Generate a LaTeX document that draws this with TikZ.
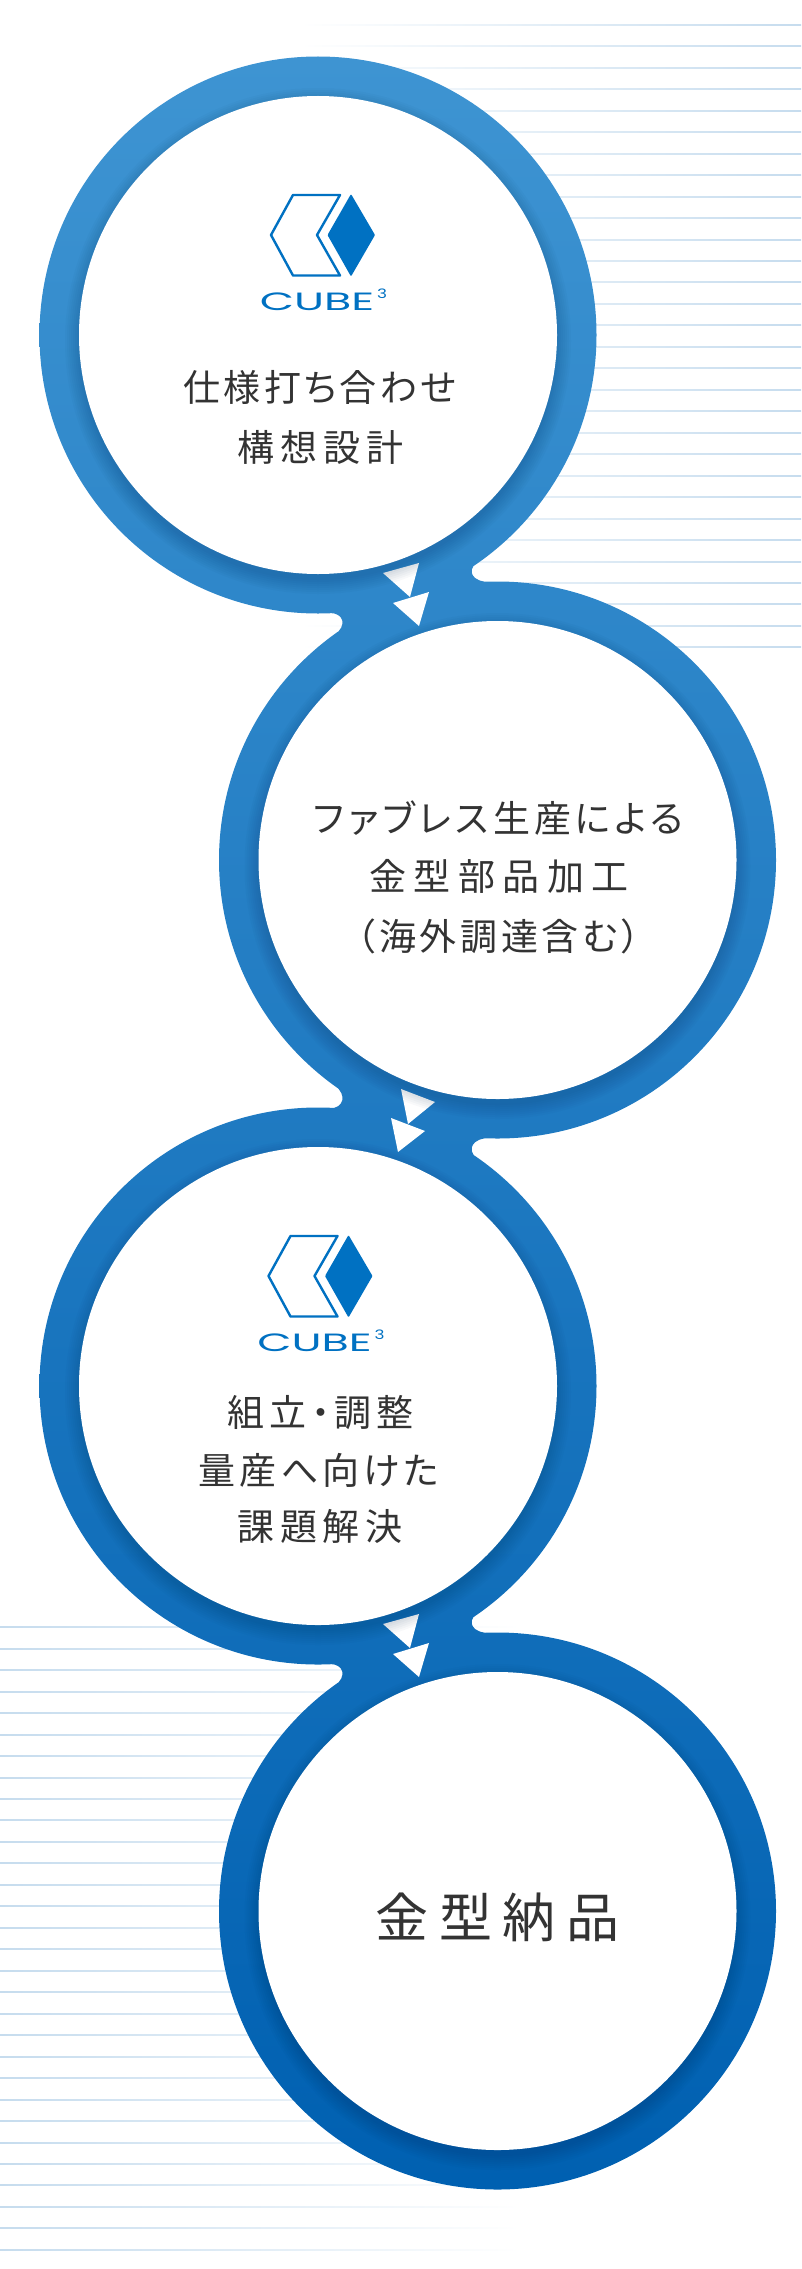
\documentclass[tikz,border=0pt]{standalone}
\usepackage{fontspec}
\newfontfamily\jpfont[RawFeature=+palt]{Noto Sans CJK JP}
\newfontfamily\logofont{Poppins}
\definecolor{linecol}{HTML}{C6DCEE}
\definecolor{ringtop}{HTML}{3E94D2}
\definecolor{ringbottom}{HTML}{0060B1}
\definecolor{logoblue}{HTML}{0071C2}
\definecolor{textcol}{HTML}{333333}
\definecolor{shadowcol}{HTML}{002A55}
\newcommand{\tracked}[2]{{\addfontfeature{LetterSpace=#1}#2}}
\tikzset{
    stepdisc/.style={circle, fill=white, inner sep=0pt, minimum size=478pt},
    steptext/.style={font=\jpfont\fontsize{37}{60}\selectfont, align=center, text=textcol, inner sep=0pt},
    bigtext/.style={font=\jpfont\fontsize{53}{60}\selectfont, align=center, text=textcol, inner sep=0pt},
    cubeword/.style={font=\logofont\fontsize{25}{25}\selectfont, text=logoblue, inner sep=0pt, xscale=1.78},
    cubeexp/.style={font=\logofont\fontsize{13}{13}\selectfont, text=logoblue, inner sep=0pt, xscale=1.3},
    cubelogo/.pic={
        \draw[logoblue, line width=2.4pt, line join=round] (-24,-40) -- (23,-40) -- (0,0) -- (23,40.5) -- (-24,40.5) -- (-46,0) -- cycle;
        \fill[logoblue, rounded corners=1pt] (34,-41) -- (58,0) -- (34,41.5) -- (10.5,0) -- cycle;
        \node[cubeword] (-word) at (0,67) {CUBE};
        \node[cubeexp] (-exp) at (65,59) {3};
    }
}
\begin{document}
\begin{tikzpicture}[x=1pt,y=-1pt]
    \useasboundingbox (0,0) rectangle (801,2269);

    % Striped background, top right and bottom left
    \foreach \k in {0,...,29} {
        \pgfmathsetmacro\ly{24.3+21.47*\k}
        \shade[left color=white, right color=linecol] (300,\ly) rectangle (801,\ly+1);
        \pgfmathsetmacro\ly{1626.7+21.47*\k}
        \shade[left color=linecol, right color=white] (0,\ly) rectangle (520,\ly+1);
    }

    % Define the centres of the circles
    \coordinate (c1) at (318,335);
    \coordinate (c2) at (497.5,860);
    \coordinate (c3) at (318,1386);
    \coordinate (c4) at (497.5,1911);

    % Draw the ring band with its three necks
    \shade[top color=ringtop, bottom color=ringbottom]
        (c1) circle (278.5) (c2) circle (278.5) (c3) circle (278.5) (c4) circle (278.5)
        (c1) -- (476,563.4) .. controls (467,571) and (472,582) .. (490,582) -- (c2)
            -- (335,634.4) .. controls (347,626) and (344,613) .. (330,613) -- cycle
        (330,1108.3) .. controls (344,1108.3) and (347,1094.5) .. (335,1085.6) -- (c2)
            -- (490,1138) .. controls (472,1138) and (467,1149.5) .. (476,1157.6) -- (c3) -- cycle
        (c3) -- (476,1614.4) .. controls (467,1622) and (472,1633) .. (490,1633) -- (c4)
            -- (335,1685.4) .. controls (347,1677) and (344,1664) .. (330,1664) -- cycle;

    % Arrow triangles between the circles
    \foreach \ax/\ay/\bx/\by/\cx/\cy in {
        383/573/419/563/410/597, 393/603/429/592/419/626,
        401/1089/435/1102/408/1124, 391/1118/425/1131/398/1152,
        383/1624/419/1614/410/1648, 393/1654/429/1643/419/1677}
        \fill[white] (\ax,\ay) -- (\bx,\by) -- (\cx,\cy) -- cycle;

    % Soft shadow under each disc
    \foreach \c in {c1,c2,c3,c4}
        \foreach \r in {239,241,...,253}
            \fill[shadowcol, opacity=0.028] ([yshift=-6pt]\c) circle (\r);

    % White discs
    \node[stepdisc] (design) at (c1) {};
    \node[stepdisc] (parts) at (c2) {};
    \node[stepdisc] (assembly) at (c3) {};
    \node[stepdisc] (delivery) at (c4) {};

    % Logos
    \pic (logoA) at (317,235) {cubelogo};
    \pic (logoB) at (314.5,1276) {cubelogo};

    % Labels
    \node[steptext] (designA) at (320,387) {\tracked{8.5}{仕様打ち合わせ}};
    \node[steptext] (designB) at (320.5,447.5) {\tracked{16}{構想設計}};

    \node[steptext] (partsA) at (498.5,818) {\tracked{11}{ファブレス生産による}};
    \node[steptext] (partsB) at (499,876) {\tracked{20}{金型部品加工}};
    \node[steptext] (partsC) at (498.5,936) {\tracked{10}{（海外調達含む）}};

    \node[steptext] (assemblyA) at (320.5,1413) {\tracked{13.5}{組立・調整}};
    \node[steptext] (assemblyB) at (319,1470) {\tracked{11}{量産へ向けた}};
    \node[steptext] (assemblyC) at (320,1526) {\tracked{16}{課題解決}};

    \node[bigtext] (deliveryA) at (497.5,1917) {\tracked{20}{金型納品}};

\end{tikzpicture}
\end{document}
